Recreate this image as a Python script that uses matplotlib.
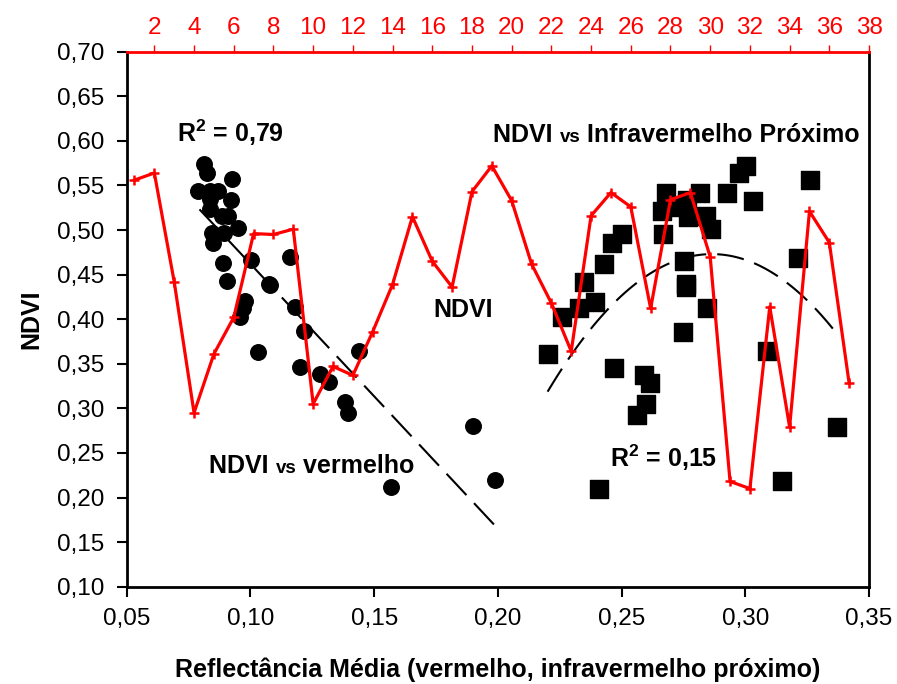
import numpy as np
import matplotlib
matplotlib.use("Agg")
import matplotlib.pyplot as plt
from matplotlib.offsetbox import TextArea, HPacker, AnnotationBbox

plt.rcParams['font.family'] = ['Liberation Sans', 'DejaVu Sans']
plt.rcParams['mathtext.fontset'] = 'custom'
plt.rcParams['mathtext.rm'] = 'Liberation Sans'
plt.rcParams['mathtext.bf'] = 'Liberation Sans:bold'

# NDVI vs vermelho (circles)
red_x = [0.0813, 0.0823, 0.0790, 0.0837, 0.0870, 0.0927, 0.0920, 0.0837, 0.0837,
         0.0884, 0.0908, 0.0951, 0.0844, 0.0895, 0.0850, 0.0891, 0.0904, 0.1003,
         0.1073, 0.1079, 0.0978, 0.0969, 0.0958, 0.1032, 0.1158, 0.1181, 0.1217,
         0.1201, 0.1282, 0.1319, 0.1437, 0.1383, 0.1394, 0.1899, 0.1990, 0.1568]
red_y = [0.574, 0.564, 0.544, 0.544, 0.544, 0.557, 0.534, 0.535, 0.524,
         0.516, 0.516, 0.502, 0.497, 0.497, 0.486, 0.463, 0.443, 0.466,
         0.440, 0.438, 0.420, 0.412, 0.403, 0.363, 0.470, 0.414, 0.387,
         0.346, 0.338, 0.329, 0.364, 0.307, 0.295, 0.280, 0.220, 0.212]

# NDVI vs infravermelho proximo (squares)
nir_x = [0.3004, 0.2973, 0.3263, 0.2680, 0.2818, 0.2926, 0.3031, 0.2764, 0.2697,
         0.2663, 0.2767, 0.2843, 0.2862, 0.2502, 0.2461, 0.2667, 0.2427, 0.2751,
         0.2760, 0.2760, 0.2347, 0.2394, 0.2326, 0.2259, 0.2202, 0.2845, 0.2748,
         0.3212, 0.3088, 0.2471, 0.2589, 0.2613, 0.2600, 0.2562, 0.3371, 0.3149,
         0.2410]
nir_y = [0.572, 0.564, 0.556, 0.542, 0.542, 0.542, 0.533, 0.534, 0.526,
         0.521, 0.515, 0.516, 0.501, 0.496, 0.485, 0.496, 0.462, 0.465,
         0.440, 0.436, 0.442, 0.419, 0.413, 0.403, 0.361, 0.413, 0.386,
         0.469, 0.364, 0.345, 0.337, 0.328, 0.305, 0.293, 0.279, 0.219,
         0.210]

# NDVI series by sample number (top axis)
sample = list(range(1, 38))
ndvi = [0.556, 0.564, 0.442, 0.295, 0.361, 0.402, 0.496, 0.495, 0.501, 0.305,
        0.347, 0.337, 0.386, 0.439, 0.515, 0.465, 0.436, 0.543, 0.572, 0.533,
        0.462, 0.418, 0.364, 0.516, 0.542, 0.526, 0.412, 0.534, 0.542, 0.470,
        0.218, 0.210, 0.414, 0.279, 0.521, 0.486, 0.328]

# trend lines
lin_coef = [-2.97, 0.759]          # y = a*x + b
lin_range = [0.0794, 0.1990]
quad_a, quad_h, quad_k = -35.0, 0.2865, 0.473   # y = a*(x-h)^2 + k
quad_range = [0.2201, 0.3378]

fig = plt.figure(figsize=(8.97, 6.84), dpi=100)
ax = fig.add_axes([0.1413, 0.1423, 0.8275, 0.7821])

ax.scatter(red_x, red_y, s=125, c='black', marker='o', zorder=3)
ax.scatter(nir_x, nir_y, s=150, c='black', marker='s', zorder=3)

xl = np.linspace(lin_range[0], lin_range[1], 50)
ax.plot(xl, np.polyval(lin_coef, xl), color='black', lw=1.5, dashes=(14, 5.3), zorder=2)
xq = np.linspace(quad_range[0], quad_range[1], 100)
ax.plot(xq, quad_a * (xq - quad_h) ** 2 + quad_k, color='black', lw=1.5,
        dashes=(13, 5.3), zorder=2)

ax.set_xlim(0.05, 0.35)
ax.set_ylim(0.10, 0.70)
ax.set_xticks(np.arange(0.05, 0.351, 0.05))
ax.set_yticks(np.arange(0.10, 0.701, 0.05))
ax.set_xticklabels([f"{v:.2f}".replace('.', ',') for v in ax.get_xticks()])
ax.set_yticklabels([f"{v:.2f}".replace('.', ',') for v in ax.get_yticks()])
ax.tick_params(axis='both', direction='out', length=7, width=1.5, labelsize=17.5)
ax.tick_params(axis='x', pad=8)
ax.tick_params(axis='y', pad=9)
for s in ['left', 'bottom', 'right']:
    ax.spines[s].set_linewidth(2)
ax.spines['top'].set_visible(False)
ax.set_xlabel("Reflectância Média (vermelho, infravermelho próximo)",
              fontsize=18, fontweight='bold', labelpad=20)
ax.set_ylabel("NDVI", fontsize=18, fontweight='bold', labelpad=10)

ax2 = ax.twiny()
ax2.plot(sample, ndvi, color='#FF0000', lw=2.3, marker='+', ms=7, mew=1.8, zorder=4)
ax2.set_xlim(0.61, 38.0)
ax2.set_xticks(range(2, 39, 2))
ax2.tick_params(axis='x', colors='#FF0000', direction='out', length=5, width=1,
                labelsize=17.5, pad=4)
for s in ['left', 'bottom', 'right']:
    ax2.spines[s].set_visible(False)
ax2.spines['top'].set_color('#FF0000')
ax2.spines['top'].set_linewidth(2)

# annotations
def label(parts, xpix, ypix):
    boxes = [TextArea(t, textprops=dict(fontsize=fs, fontweight='bold', color='black'))
             for t, fs in parts]
    pack = HPacker(children=boxes, align='baseline', pad=0, sep=0)
    ab = AnnotationBbox(pack, (xpix, 684 - ypix), xycoords='figure pixels',
                        box_alignment=(0, 0.5), frameon=False, pad=0)
    fig.add_artist(ab)

fig.text(177 / 897, 1 - 133 / 684, r"R$^{\mathbf{2}}$ = 0,79", fontsize=18,
         fontweight='bold', va='center', ha='left')
fig.text(610 / 897, 1 - 458 / 684, r"R$^{\mathbf{2}}$ = 0,15", fontsize=18,
         fontweight='bold', va='center', ha='left')
fig.text(433 / 897, 1 - 310 / 684, "NDVI", fontsize=18, fontweight='bold',
         va='center', ha='left')
label([("NDVI ", 18), ("vs", 13.5), (" Infravermelho Próximo", 18)], 493, 135)
label([("NDVI ", 18), ("vs", 13.5), (" vermelho", 18)], 209, 466)

fig.savefig('out.png', dpi=100)
